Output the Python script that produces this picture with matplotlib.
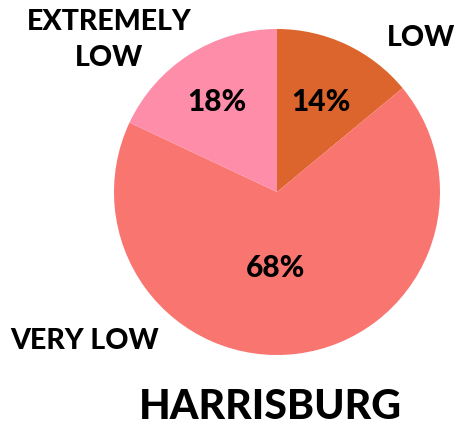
import matplotlib
matplotlib.use('Agg')
import matplotlib.pyplot as plt

# slice data, clockwise from 12 o'clock
labels = ['LOW', 'VERY LOW', 'EXTREMELY\nLOW']
shares = [14, 68, 18]
colors = ['#DB652C', '#F97570', '#FE8DAA']
title = 'HARRISBURG'

W, H = 457, 426
fig = plt.figure(figsize=(W / 100, H / 100), dpi=100)

# pie centre / radius in pixels
cx, cy, r = 277, 192, 163
ax = fig.add_axes([(cx - r) / W, (H - cy - r) / H, 2 * r / W, 2 * r / H])
ax.pie(shares, colors=colors, startangle=90, counterclock=False,
       radius=1, wedgeprops=dict(linewidth=0))
ax.set_xlim(-1, 1)
ax.set_ylim(-1, 1)
ax.set_aspect('auto')
ax.axis('off')

font = dict(family=['Lato', 'DejaVu Sans'], weight='black', color='black')

def px(x, y):
    return x / W, 1 - y / H

# percent labels
pct_pos = [(321, 102), (276, 268), (217, 102)]
for (x, y), v in zip(pct_pos, shares):
    fig.text(*px(x, y), f'{v}%', ha='center', va='center', fontsize=21.5, **font)

# category labels
lab_pos = [(421, 38), (85, 341), (109, 40)]
for (x, y), t in zip(lab_pos, labels):
    fig.text(*px(x, y), t, ha='center', va='center', fontsize=20.5,
             linespacing=1.5, **font)

fig.text(*px(270, 407), title, ha='center', va='center', fontsize=29.5, **font)

fig.savefig('out.png', dpi=100)
